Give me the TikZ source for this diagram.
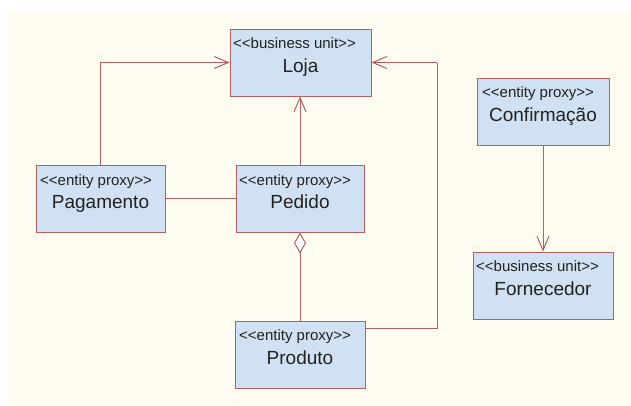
\documentclass[tikz,border=0pt]{standalone}
\usepackage{fontspec}
\setmainfont{Liberation Sans}
\usetikzlibrary{arrows.meta,calc}
\definecolor{bgcream}{RGB}{254,252,240}
\definecolor{boxfill}{RGB}{207,225,242}
\definecolor{linered}{RGB}{180,95,95}
\definecolor{txt}{RGB}{34,34,34}
\newcommand{\stL}{<\kern0pt<}
\newcommand{\stR}{>\kern0pt>}
\begin{document}
\begin{tikzpicture}[x=1pt,y=-1pt,
  umlbox/.style={draw=linered,fill=boxfill,line width=1pt,rectangle,inner sep=0pt,minimum height=67pt},
  stereo/.style={anchor=base west,inner sep=0pt,text=txt,font=\fontsize{15}{17}\selectfont},
  cname/.style={anchor=base,inner sep=0pt,text=txt,font=\fontsize{19}{22}\selectfont},
  conn/.style={draw=linered,line width=1pt},
  dep/.style={conn,-{Straight Barb[length=14pt,width=12pt,line width=1pt]}},
  agg/.style={conn,{Diamond[open,length=21pt,width=12pt,line width=1pt,fill=white]}-}
]
\useasboundingbox (0,0) rectangle (631,405);
\fill[bgcream] (7,12) rectangle (631,404);

\node[umlbox,minimum width=141pt] (loja) at (300.5,62.5) {};
\node[umlbox,minimum width=129pt] (pag) at (100.5,198.5) {};
\node[umlbox,minimum width=128pt] (ped) at (300,198.5) {};
\node[umlbox,minimum width=130pt] (prod) at (300,354.5) {};
\node[umlbox,minimum width=132pt] (conf) at (543,111.5) {};
\node[umlbox,minimum width=140pt] (forn) at (543,285.5) {};

\node[stereo] (lojaS) at (233,48) {\stL business unit\stR};
\node[cname] (lojaN) at (300.5,72) {Loja};
\node[stereo] (pagS) at (40,185) {\stL entity proxy\stR};
\node[cname] (pagN) at (100.5,208) {Pagamento};
\node[stereo] (pedS) at (239,185) {\stL entity proxy\stR};
\node[cname] (pedN) at (300,208) {Pedido};
\node[stereo] (prodS) at (239,340) {\stL entity proxy\stR};
\node[cname] (prodN) at (300,364) {Produto};
\node[stereo] (confS) at (482,97) {\stL entity proxy\stR};
\node[cname] (confN) at (543,121) {Confirmação};
\node[stereo] (fornS) at (476,271) {\stL business unit\stR};
\node[cname] (fornN) at (543,295) {Fornecedor};

\coordinate (prodR) at ([yshift=-8pt]prod.north east);
\coordinate (rc) at (437,62.5);

\draw[dep] (pag.north) |- (loja.west);
\draw[dep] (ped.north) -- (ped.north |- loja.south);
\draw[conn] (pag.east) -- (ped.west);
\draw[agg] (ped.south) -- (prod.north);
\draw[conn] (prodR) -| (rc);
\draw[dep] (rc) -- (loja.east);
\draw[dep] (conf.south) -- (forn.north);
\end{tikzpicture}
\end{document}
